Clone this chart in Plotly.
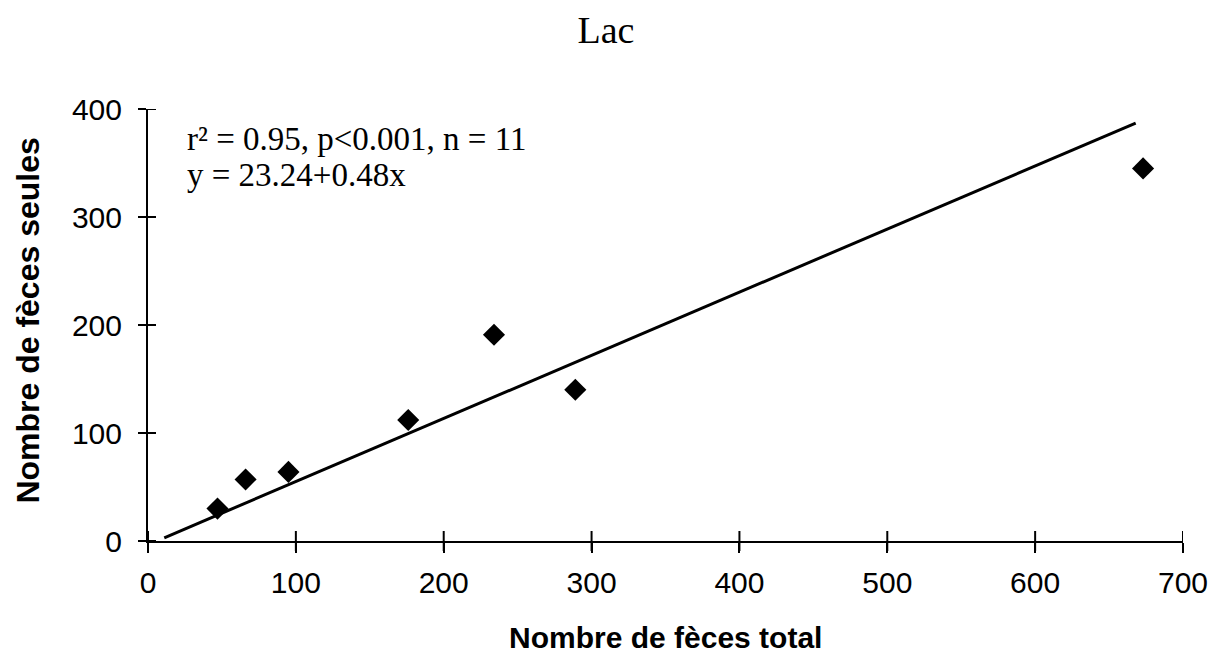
import plotly.graph_objects as go

# Data
total_x = [47, 66, 95, 176, 234, 289, 673]
seules_y = [30, 57, 64, 112, 191, 140, 345]
fit_x = [11, 668]
fit_y = [3, 387]
x_ticks = [0, 100, 200, 300, 400, 500, 600, 700]
y_ticks = [0, 100, 200, 300, 400]

title_txt = "Lac"
x_title = "Nombre de fèces total"
y_title = "Nombre de fèces seules"
stat_line1 = "r² = 0.95, p<0.001, n = 11"
stat_line2 = "y = 23.24+0.48x"

SANS = "Liberation Sans, Arial, sans-serif"
SERIF = "Liberation Serif, Times New Roman, serif"

fig = go.Figure()
fig.add_trace(go.Scatter(x=fit_x, y=fit_y, mode="lines",
                         line=dict(color="black", width=3),
                         showlegend=False, hoverinfo="skip"))
fig.add_trace(go.Scatter(x=total_x, y=seules_y, mode="markers",
                         marker=dict(symbol="diamond", size=17, color="black"),
                         showlegend=False))

# crossing tick marks (inside part), generated from the tick lists
shapes = []
for v in x_ticks:
    shapes.append(dict(type="line", xref="x", yref="paper", x0=v, x1=v,
                       ysizemode="pixel", yanchor=0, y0=-10, y1=10,
                       line=dict(color="black", width=2)))
for v in y_ticks:
    shapes.append(dict(type="line", xref="paper", yref="y", y0=v, y1=v,
                       xsizemode="pixel", xanchor=0, x0=-8, x1=8,
                       line=dict(color="black", width=2)))

fig.update_layout(
    width=1212, height=658,
    margin=dict(l=148, r=29, t=109, b=117, autoexpand=False),
    paper_bgcolor="white", plot_bgcolor="white",
    title=dict(text=title_txt, x=0.5, xref="container", y=0.955, yref="container",
               xanchor="center", yanchor="middle",
               font=dict(family=SERIF, size=38, color="black")),
    xaxis=dict(range=[0, 700], tickvals=x_ticks, showgrid=False, zeroline=False,
               showline=True, linecolor="black", linewidth=2,
               ticks="outside", ticklen=10, tickwidth=2, tickcolor="black",
               tickfont=dict(family=SANS, size=30, color="black"),
               ticklabelstandoff=4, ticklabeloverflow="allow", automargin=False),
    yaxis=dict(range=[0, 400], tickvals=y_ticks, showgrid=False, zeroline=False,
               showline=True, linecolor="black", linewidth=2,
               ticks="outside", ticklen=8, tickwidth=2, tickcolor="black",
               tickfont=dict(family=SANS, size=30, color="black"),
               ticklabelstandoff=10, automargin=False),
    shapes=shapes,
    annotations=[
        dict(text=stat_line1, xref="paper", yref="paper", x=0.036, y=0.93,
             xanchor="left", yanchor="middle", showarrow=False,
             font=dict(family=SERIF, size=33, color="black")),
        dict(text=stat_line2, xref="paper", yref="paper", x=0.036, y=0.848,
             xanchor="left", yanchor="middle", showarrow=False,
             font=dict(family=SERIF, size=33, color="black")),
        dict(text="<b>" + x_title + "</b>", xref="paper", yref="paper",
             x=0.5, y=-0.2245, xanchor="center", yanchor="middle", showarrow=False,
             font=dict(family=SANS, size=30, color="black")),
        dict(text="<b>" + y_title + "</b>", xref="paper", yref="paper",
             x=-0.116, y=0.51, xanchor="center", yanchor="middle", showarrow=False,
             textangle=-90,
             font=dict(family=SANS, size=32, color="black")),
    ],
)

fig.write_html("out.html",
               config={"displayModeBar": False},
               post_script="document.body.style.margin='0';"
                           "document.documentElement.style.overflow='hidden';")
